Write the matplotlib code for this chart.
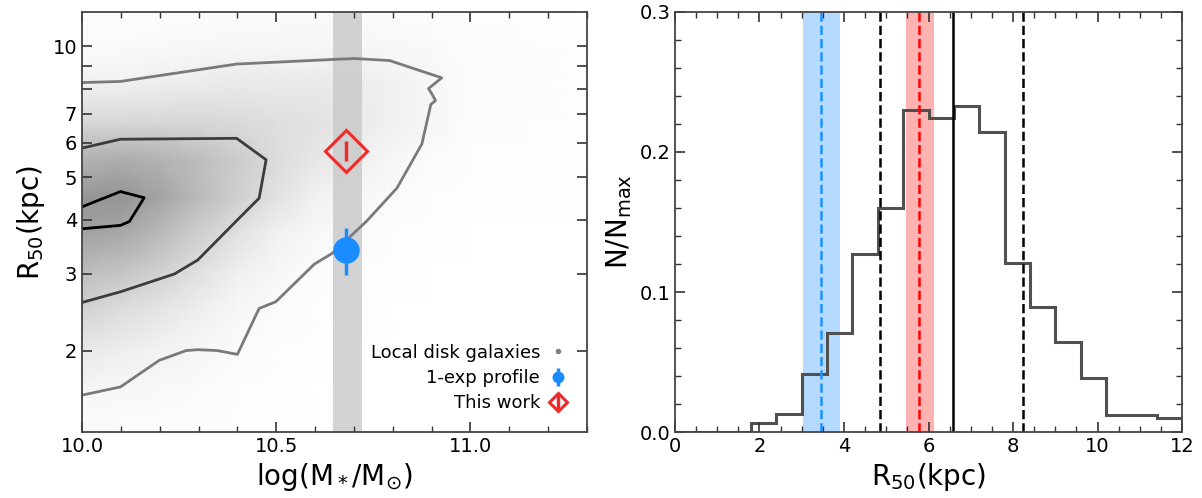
import numpy as np
import matplotlib
matplotlib.use('Agg')
import matplotlib.pyplot as plt
from matplotlib.lines import Line2D
from matplotlib.ticker import FixedLocator, MultipleLocator, NullLocator

plt.rcParams['mathtext.default'] = 'regular'
plt.rcParams['font.family'] = 'DejaVu Sans'

# ---- left panel: size-mass plane ----
# density of local disk galaxies, read by eye (rows: r_nodes, cols: mass_nodes)
mass_nodes = [10.0, 10.1, 10.2, 10.3, 10.4, 10.5, 10.6, 10.7, 10.8, 10.9, 11.0, 11.3]
r_nodes = [1.3, 1.6, 2.0, 2.5, 3.0, 3.7, 4.5, 5.5, 6.7, 8.2, 10.0, 12.0]
density = [
    [0.05, 0.04, 0.03, 0.03, 0.02, 0.01, 0.01, 0.00, 0.00, 0.00, 0.00, 0.00],
    [0.10, 0.08, 0.07, 0.05, 0.03, 0.02, 0.01, 0.01, 0.00, 0.00, 0.00, 0.00],
    [0.22, 0.18, 0.14, 0.10, 0.05, 0.03, 0.02, 0.01, 0.01, 0.00, 0.00, 0.00],
    [0.38, 0.32, 0.26, 0.18, 0.10, 0.05, 0.03, 0.02, 0.01, 0.01, 0.00, 0.00],
    [0.50, 0.45, 0.38, 0.28, 0.17, 0.09, 0.04, 0.03, 0.02, 0.01, 0.01, 0.00],
    [0.62, 0.60, 0.52, 0.40, 0.28, 0.16, 0.08, 0.05, 0.03, 0.02, 0.01, 0.01],
    [0.68, 0.68, 0.62, 0.52, 0.40, 0.27, 0.16, 0.10, 0.05, 0.03, 0.02, 0.01],
    [0.55, 0.58, 0.55, 0.50, 0.42, 0.32, 0.24, 0.18, 0.10, 0.05, 0.03, 0.01],
    [0.35, 0.35, 0.35, 0.35, 0.33, 0.30, 0.27, 0.22, 0.16, 0.10, 0.04, 0.02],
    [0.15, 0.16, 0.18, 0.20, 0.22, 0.22, 0.22, 0.20, 0.16, 0.10, 0.05, 0.02],
    [0.06, 0.06, 0.07, 0.08, 0.09, 0.10, 0.10, 0.10, 0.08, 0.06, 0.04, 0.02],
    [0.04, 0.04, 0.04, 0.05, 0.05, 0.05, 0.06, 0.06, 0.05, 0.04, 0.03, 0.02],
]

# contour levels (outer, middle, inner)
outer_m = [10.0, 10.099, 10.398, 10.662, 10.703, 10.792, 10.926, 10.892, 10.90, 10.910,
           10.898, 10.875, 10.811, 10.733, 10.645, 10.598, 10.499, 10.456, 10.400,
           10.349, 10.298, 10.268, 10.199, 10.099, 10.0]
outer_r = [8.26, 8.31, 9.11, 9.35, 9.38, 9.28, 8.47, 8.0, 7.8, 7.51,
           7.36, 5.97, 4.73, 3.97, 3.35, 3.16, 2.59, 2.50, 1.96,
           2.00, 2.01, 2.00, 1.90, 1.65, 1.58]
middle_m = [10.0, 10.099, 10.398, 10.474, 10.456, 10.396, 10.298, 10.238, 10.099, 10.0]
middle_r = [5.84, 6.12, 6.15, 5.49, 4.48, 3.96, 3.23, 3.00, 2.73, 2.58]
inner_m = [10.0, 10.099, 10.160, 10.122, 10.099, 10.0]
inner_r = [4.28, 4.64, 4.49, 3.96, 3.88, 3.81]

mass_band = [10.645, 10.72]
exp_mass, exp_r, exp_lo, exp_hi = 10.68, 3.41, 2.99, 3.83
this_mass, this_r, this_lo, this_hi = 10.68, 5.75, 5.45, 6.05

# ---- right panel: R50 histogram ----
bin_edges = [0.0, 0.6, 1.2, 1.8, 2.4, 3.0, 3.6, 4.2, 4.8, 5.4, 6.0, 6.6, 7.2, 7.8,
             8.4, 9.0, 9.6, 10.2, 10.8, 11.4, 12.0]
n_frac = [0.0, 0.0, 0.0, 0.0067, 0.0126, 0.0414, 0.0705, 0.127, 0.160, 0.230,
          0.224, 0.233, 0.214, 0.121, 0.089, 0.064, 0.0386, 0.0121, 0.0121, 0.010]
blue_band = [3.02, 3.90]
blue_line = 3.46
red_band = [5.46, 6.14]
red_line = 5.78
black_dashed = [4.86, 8.24]
black_solid = 6.59

fig = plt.figure(figsize=(12.02, 4.98), dpi=100)
ax1 = fig.add_axes([82/1202, 66/498, 505/1202, 420/498])
ax2 = fig.add_axes([675/1202, 66/498, 507/1202, 420/498])

# left
ax1.set_yscale('log')
ax1.pcolormesh(mass_nodes, r_nodes, np.array(density), shading='gouraud',
               cmap='Greys', vmin=0, vmax=1.35, zorder=0, rasterized=True)
ax1.axvspan(mass_band[0], mass_band[1], color='#c8c8c8', alpha=0.8, lw=0, zorder=1)
ax1.plot(outer_m, outer_r, color='#7a7a7a', lw=2, zorder=2)
ax1.plot(middle_m, middle_r, color='#3c3c3c', lw=2, zorder=2)
ax1.plot(inner_m, inner_r, color='black', lw=2, zorder=2)

ax1.errorbar([exp_mass], [exp_r], yerr=[[exp_r - exp_lo], [exp_hi - exp_r]],
             fmt='o', color='#1a8cff', ms=18, elinewidth=2.5, capsize=0,
             zorder=4, label='1-exp profile')
ax1.errorbar([this_mass], [this_r], yerr=[[this_r - this_lo], [this_hi - this_r]],
             fmt='D', color='#ee2a2a', mfc='none', mec='#ee2a2a', ms=21, mew=2.2,
             elinewidth=2.5, capsize=0, zorder=4, label='This work')

# marker sizes get scaled down in the legend
dots = Line2D([], [], ls='none', marker='o', color='gray', ms=7)
h, l = ax1.get_legend_handles_labels()
ax1.legend([dots] + h, ['Local disk galaxies'] + l, loc='lower right',
           markerfirst=False, frameon=False, fontsize=13, handlelength=1.0,
           handletextpad=0.5, labelspacing=0.4, borderaxespad=0.7,
           markerscale=0.42)

ax1.set_xlim(10.0, 11.3)
ax1.set_ylim(1.3, 12)
ax1.xaxis.set_minor_locator(MultipleLocator(0.1))
ax1.set_xticks([10.0, 10.5, 11.0])
ax1.set_xticklabels(['10.0', '10.5', '11.0'])
ax1.yaxis.set_major_locator(FixedLocator([2, 3, 4, 5, 6, 7, 8, 9, 10]))
ax1.yaxis.set_minor_locator(NullLocator())
ax1.set_yticklabels(['2', '3', '4', '5', '6', '7', '', '', '10'])
ax1.set_xlabel(r'log(M$_*$/M$_{\odot}$)', fontsize=20)
ax1.set_ylabel(r'R$_{50}$(kpc)', fontsize=20)

# right
ax2.axvspan(blue_band[0], blue_band[1], color='dodgerblue', alpha=0.33, lw=0)
ax2.axvspan(red_band[0], red_band[1], color='red', alpha=0.3, lw=0)
ax2.axvline(blue_line, color='dodgerblue', ls='--', lw=1.8)
ax2.axvline(red_line, color='red', ls='--', lw=1.8)
for xv in black_dashed:
    ax2.axvline(xv, color='black', ls='--', lw=1.8)
ax2.axvline(black_solid, color='black', lw=1.8)
ax2.stairs(n_frac, bin_edges, color='#505050', lw=2.2)

ax2.set_xlim(0, 12)
ax2.set_ylim(0, 0.3)
ax2.xaxis.set_major_locator(MultipleLocator(2))
ax2.xaxis.set_minor_locator(MultipleLocator(0.5))
ax2.yaxis.set_major_locator(MultipleLocator(0.1))
ax2.yaxis.set_minor_locator(MultipleLocator(0.02))
ax2.set_xlabel(r'R$_{50}$(kpc)', fontsize=20)
ax2.set_ylabel(r'N/N$_{max}$', fontsize=20)

for ax in (ax1, ax2):
    ax.tick_params(which='both', direction='in', top=True, right=True,
                   labelsize=14, color='#333333')
    ax.tick_params(which='major', length=7, width=1.2)
    ax.tick_params(which='minor', length=4, width=1.0)
    for s in ax.spines.values():
        s.set_color('#444444')
        s.set_linewidth(1.3)

fig.savefig('out.png', dpi=100)
